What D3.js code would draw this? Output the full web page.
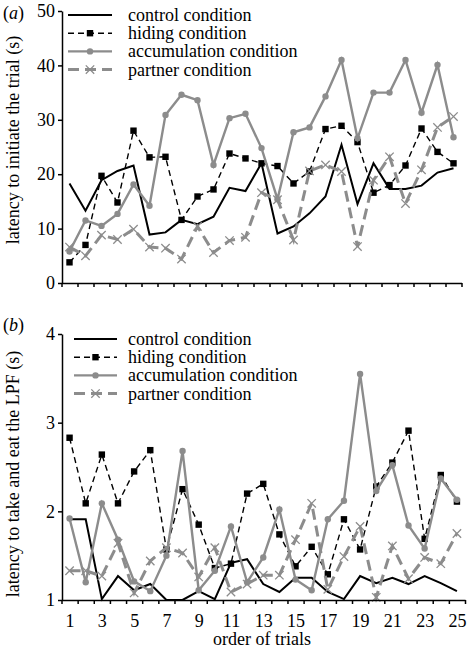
<!DOCTYPE html>
<html>
<head>
<meta charset="utf-8">
<script src="https://cdn.jsdelivr.net/npm/d3@7"></script>
<style>
  html, body { margin: 0; padding: 0; background: #fff; }
  svg { display: block; font-family: "Liberation Serif", "Times New Roman", serif; }
</style>
</head>
<body>
<script>
// ---- data ----
const trials = d3.range(1, 26);
const seriesNames = ["control condition", "hiding condition", "accumulation condition", "partner condition"];
const xTickLabels = [1, 3, 5, 7, 9, 11, 13, 15, 17, 19, 21, 23, 25];
const yTicksA = [0, 10, 20, 30, 40, 50];
const yTicksB = [1, 2, 3, 4];

// panel (a): latency to initiate the trial (s)
const controlA      = [18.3, 13.3, 18.9, 20.6, 21.6, 8.9, 9.3, 11.6, 10.8, 12.2, 17.5, 16.9, 22.0, 9.1, 10.4, 12.8, 15.9, 25.4, 14.5, 22.0, 17.3, 17.3, 17.9, 20.3, 21.1];
const hidingA       = [3.8, 7.0, 19.7, 14.8, 28.0, 23.1, 23.2, 11.6, 15.9, 17.2, 23.8, 22.9, 22.0, 21.5, 18.3, 20.5, 28.3, 28.9, 25.9, 16.6, 18.0, 21.6, 28.4, 24.1, 22.0];
const accumulationA = [5.8, 11.5, 10.5, 12.7, 18.1, 14.2, 30.9, 34.6, 33.6, 21.7, 30.3, 31.1, 24.8, 15.4, 27.7, 28.6, 34.3, 41.0, 26.6, 35.0, 35.0, 41.0, 31.3, 40.1, 26.8];
const partnerA      = [6.6, 5.0, 8.8, 8.0, 9.9, 6.6, 6.4, 4.4, 10.4, 5.6, 7.8, 8.4, 16.6, 15.3, 7.9, 20.6, 21.7, 20.5, 6.7, 18.9, 23.2, 14.6, 20.8, 28.6, 30.6];

// panel (b): latency to take and eat the LPF (s)
const controlB      = [1.91, 1.91, 1.01, 1.27, 1.11, 1.18, 1.00, 1.00, 1.10, 1.01, 1.42, 1.46, 1.18, 1.09, 1.25, 1.25, 1.09, 1.01, 1.27, 1.19, 1.25, 1.18, 1.27, 1.19, 1.10];
const hidingB       = [2.83, 2.09, 2.64, 2.09, 2.45, 2.69, 1.57, 2.25, 1.85, 1.36, 1.41, 2.20, 2.31, 1.74, 1.38, 1.60, 1.29, 1.91, 1.57, 2.28, 2.55, 2.91, 1.69, 2.41, 2.11];
const accumulationB = [1.92, 1.20, 2.09, 1.68, 1.21, 1.10, 1.50, 2.68, 1.11, 1.33, 1.83, 1.20, 1.48, 2.02, 1.23, 1.11, 1.91, 2.12, 3.55, 2.23, 2.52, 1.84, 1.58, 2.37, 2.13];
const partnerB      = [1.33, 1.33, 1.27, 1.64, 1.08, 1.44, 1.59, 1.53, 1.26, 1.59, 1.09, 1.18, 1.28, 1.28, 1.68, 2.09, 1.12, 1.49, 1.83, 1.03, 1.61, 1.24, 1.48, 1.41, 1.75];

// ---- styles ----
const GRAY = "#8c8c8c";
const styles = [
  { stroke: "#000", width: 2,   dash: null,    marker: "none" },
  { stroke: "#000", width: 1.4, dash: "6,4",   marker: "square" },
  { stroke: GRAY,   width: 2.4, dash: null,    marker: "circle" },
  { stroke: GRAY,   width: 3,   dash: "11,6",  marker: "cross" }
];

const W = 472, H = 654;
const svg = d3.select("body").append("svg").attr("width", W).attr("height", H);

function drawMarker(g, type, cx, cy) {
  if (type === "square") {
    g.append("rect").attr("x", cx - 3.2).attr("y", cy - 3.2).attr("width", 6.4).attr("height", 6.4).attr("fill", "#000");
  } else if (type === "circle") {
    g.append("circle").attr("cx", cx).attr("cy", cy).attr("r", 3.2).attr("fill", GRAY);
  } else if (type === "cross") {
    const s = 4.2;
    g.append("path").attr("d", `M${cx - s},${cy - s}L${cx + s},${cy + s}M${cx - s},${cy + s}L${cx + s},${cy - s}`)
      .attr("stroke", GRAY).attr("stroke-width", 1.3).attr("fill", "none");
  }
}

function panel(opts) {
  const { series, yDomain, yRange, xRange, yTicks, letter, letterY, ylabel, ylabelY, legendY, legendX, showXLabels } = opts;
  const x = d3.scaleLinear().domain([0.5, 25.5]).range(xRange);
  const y = d3.scaleLinear().domain(yDomain).range(yRange);
  const g = svg.append("g");

  // series lines
  series.forEach((vals, si) => {
    const st = styles[si];
    const line = d3.line().x((d, i) => x(trials[i])).y(d => y(d));
    g.append("path").datum(vals).attr("d", line)
      .attr("fill", "none").attr("stroke", st.stroke).attr("stroke-width", st.width)
      .attr("stroke-dasharray", st.dash).attr("stroke-linejoin", "miter");
    vals.forEach((v, i) => drawMarker(g, st.marker, x(trials[i]), y(v)));
  });

  // y axis
  const ya = g.append("g").attr("transform", `translate(${xRange[0] + 0.5},0)`)
    .call(d3.axisLeft(y).tickValues(yTicks).tickFormat(d3.format("d")).tickSize(4).tickSizeOuter(0).tickPadding(3));
  ya.selectAll("text").attr("font-size", 18).attr("font-family", "Liberation Serif").attr("fill", "#000");
  ya.selectAll("line, path").attr("stroke", "#000").attr("stroke-width", 1.5);

  // x axis ticks (between trials)
  const xa = g.append("g").attr("transform", `translate(0,${yRange[0]})`)
    .call(d3.axisBottom(x).tickValues(d3.range(0.5, 26, 1)).tickFormat("").tickSize(4).tickSizeOuter(0));
  xa.selectAll("line, path").attr("stroke", "#000").attr("stroke-width", 1.5);

  if (showXLabels) {
    const xl = g.append("g").attr("transform", `translate(0,${yRange[0]})`)
      .call(d3.axisBottom(x).tickValues(xTickLabels).tickFormat(d3.format("d")).tickSize(0).tickPadding(14));
    xl.select(".domain").remove();
    xl.selectAll("text").attr("font-size", 18).attr("font-family", "Liberation Serif").attr("fill", "#000");
  }

  // panel letter
  const lt = svg.append("text").attr("x", 3).attr("y", letterY).attr("font-size", 18);
  lt.append("tspan").text("(");
  lt.append("tspan").attr("font-style", "italic").text(letter);
  lt.append("tspan").text(")");

  // y label
  svg.append("text").attr("transform", `translate(19,${ylabelY}) rotate(-90)`)
    .attr("text-anchor", "middle").attr("font-size", 18).text(ylabel);

  // legend
  const lg = svg.append("g");
  seriesNames.forEach((name, i) => {
    const st = styles[i];
    const ly = legendY + i * 18.2;
    lg.append("line").attr("x1", legendX[0]).attr("x2", legendX[1]).attr("y1", ly).attr("y2", ly)
      .attr("stroke", st.stroke).attr("stroke-width", st.width).attr("stroke-dasharray", st.dash);
    drawMarker(lg, st.marker, (legendX[0] + legendX[1]) / 2, ly);
    lg.append("text").attr("x", 128).attr("y", ly + 6).attr("font-size", 18).text(name);
  });
}

panel({
  series: [controlA, hidingA, accumulationA, partnerA],
  yDomain: [0, 50], yRange: [283, 11], xRange: [61.5, 461.5],
  yTicks: yTicksA, letter: "a", letterY: 19,
  ylabel: "latency to initiate the trial (s)", ylabelY: 140,
  legendY: 15, legendX: [68, 112], showXLabels: false
});

panel({
  series: [controlB, hidingB, accumulationB, partnerB],
  yDomain: [1, 4], yRange: [600, 334], xRange: [61.5, 465],
  yTicks: yTicksB, letter: "b", letterY: 331,
  ylabel: "latency to take and eat the LPF (s)", ylabelY: 474,
  legendY: 339, legendX: [74, 117], showXLabels: true
});

svg.append("text").attr("x", 262).attr("y", 645).attr("text-anchor", "middle").attr("font-size", 18).text("order of trials");
</script>
</body>
</html>
